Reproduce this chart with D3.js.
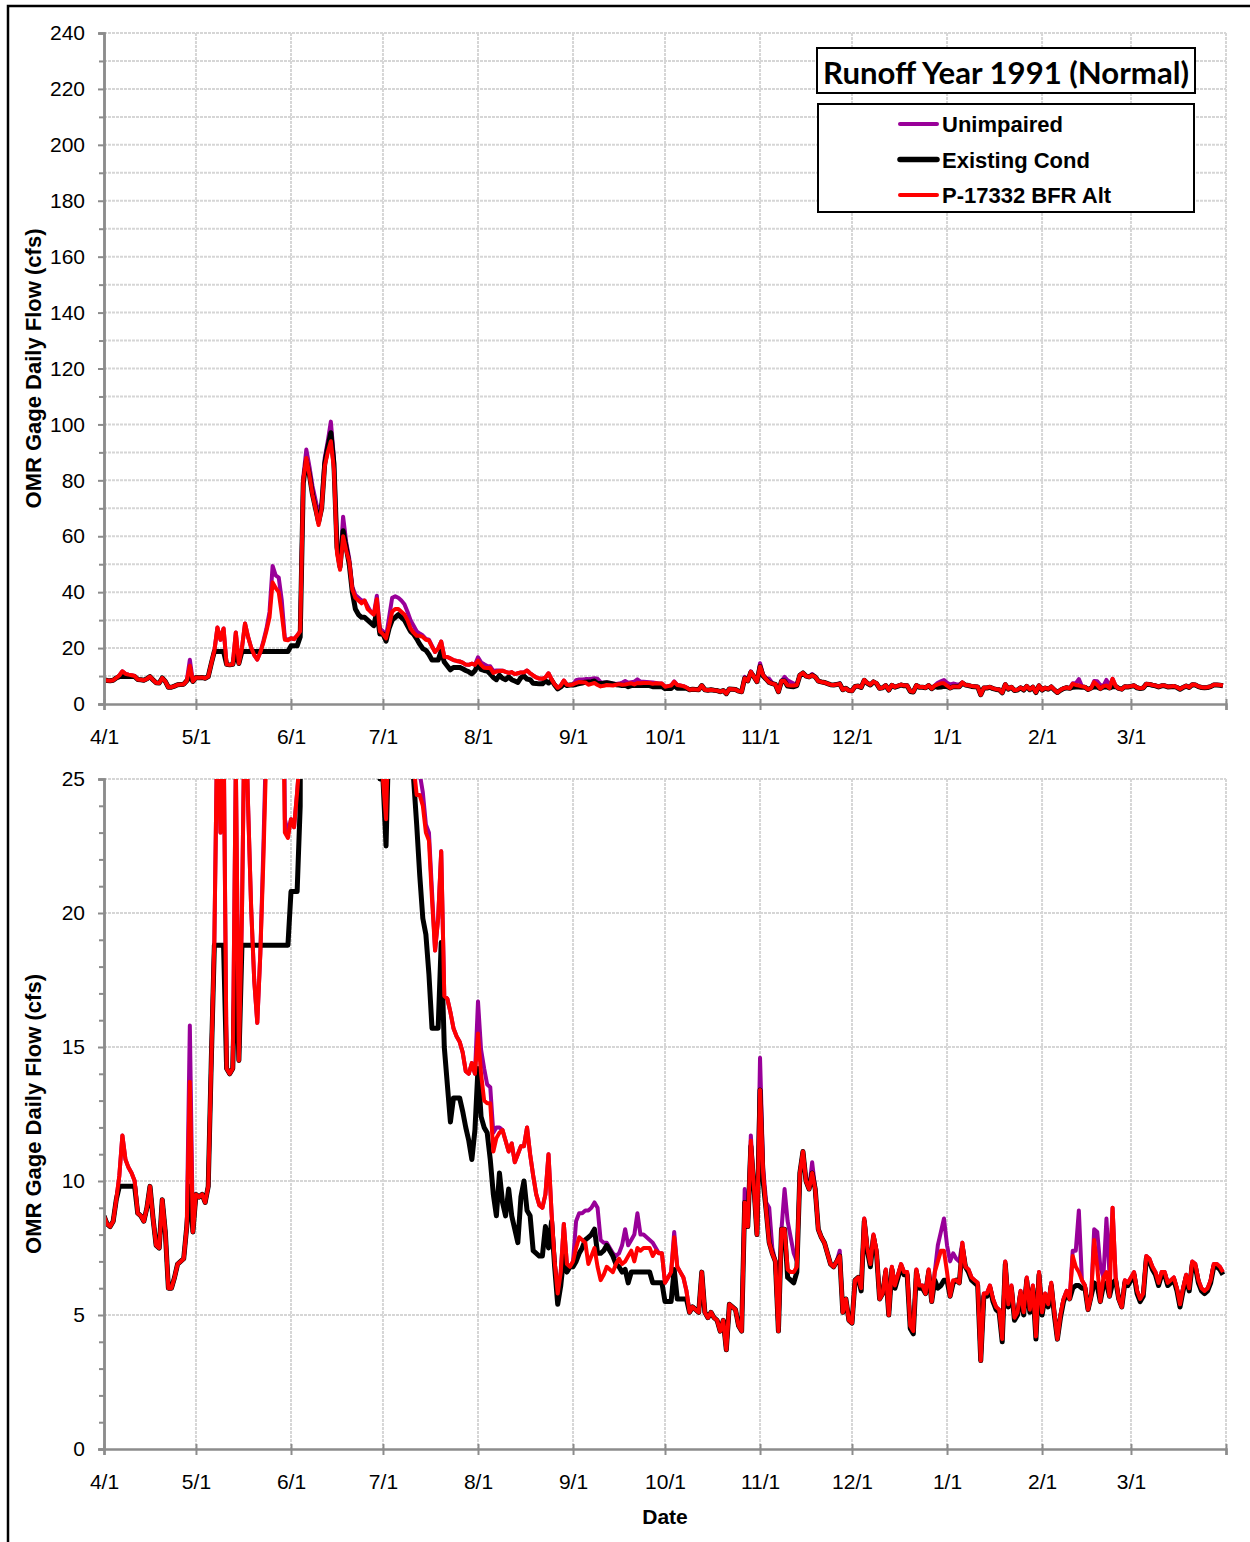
<!DOCTYPE html>
<html>
<head>
<meta charset="utf-8">
<script src="https://cdn.jsdelivr.net/npm/d3@7/dist/d3.min.js"></script>
<style>
  body { margin: 0; background: #fff; }
  svg { display: block; }
</style>
</head>
<body>
<div id="chart"></div>
<script>

// chart text
var chart_title = "Runoff Year 1991 (Normal)";
var y_title = "OMR Gage Daily Flow (cfs)";
var x_title = "Date";
var series_names = ["Unimpaired", "Existing Cond", "P-17332 BFR Alt"];
var series_colors = ["#990099", "#000000", "#ff0000"];

// axis ticks
var month_labels = ["4/1", "5/1", "6/1", "7/1", "8/1", "9/1", "10/1", "11/1", "12/1", "1/1", "2/1", "3/1", ""];
var top_major = [0, 20, 40, 60, 80, 100, 120, 140, 160, 180, 200, 220, 240];
var top_minor = [10, 30, 50, 70, 90, 110, 130, 150, 170, 190, 210, 230];
var low_major = [0, 5, 10, 15, 20, 25];
var low_minor = [1, 2, 3, 4, 6, 7, 8, 9, 11, 12, 13, 14, 16, 17, 18, 19, 21, 22, 23, 24];

// daily flow (cfs), 4/1/1991 - 3/31/1992
var unimpaired = [
  // apr
  8.7,8.4,8.3,8.5,9.3,10.2,11.7,10.8,10.5,10.3,10.0,8.8,8.7,8.5,9.0,9.8,8.6,7.6,7.5,9.3,8.1,6.0,6.0,6.4,6.9,7.0,7.1,8.3,15.8,8.1,
  // may
  9.5,9.4,9.5,9.2,9.8,14.5,19.0,27.4,23.0,27.0,14.2,14.0,14.2,25.6,14.5,20.0,28.8,24.0,20.2,17.5,15.9,18.5,22.5,27.0,33.0,49.4,46.0,45.2,37.0,23.5,23.0,
  // jun
  23.5,23.2,24.5,26,81,91,85,78,73,68,72,88,94,101,88,57,50,67,58,52,42,39,38,37,37,35,33,32,38.7,27,
  // jul
  26,24,31,38,38.5,38,37,35.7,33,30,28,26,25.2,24.5,23.3,23,20.8,18.6,19.8,22.3,16.9,16.8,16.3,15.7,15.4,15.2,14.8,14.1,14.0,14.4,14.0,
  // aug
  16.7,14.9,14.2,13.6,13.5,11.8,12.0,12.0,11.9,11.5,11.1,11.4,10.7,11.0,11.3,11.3,12.0,11.0,10.2,9.5,9.1,9.0,9.5,11.0,8.8,7.0,5.8,6.6,8.4,6.9,6.8,
  // sep
  7.0,8.5,8.8,8.8,8.9,8.9,9.0,9.2,9.0,7.8,7.7,7.7,7.5,7.3,7.2,7.3,7.6,8.2,7.6,7.8,8.0,8.8,8.0,8.0,7.9,7.8,7.7,7.5,7.3,7.3,
  // oct
  6.2,6.4,6.6,8.1,6.8,6.6,6.4,5.9,5.1,5.3,5.2,5.1,6.6,5.1,4.9,5.1,4.9,4.8,4.4,4.8,3.7,5.4,5.3,5.2,4.6,4.4,9.7,8.3,11.7,9.8,8.0,
  // nov
  14.6,10.5,9.2,9.0,7.5,7.0,4.4,8.2,9.7,8.5,7.9,7.3,7.0,10.3,11.1,10.0,9.7,10.7,9.7,8.2,7.9,7.7,7.3,6.9,6.8,7.0,7.4,5.1,5.6,4.8,
  // dec
  4.7,6.3,6.4,6.0,8.6,7.5,6.9,8.0,7.4,5.6,5.8,6.7,5.0,6.8,6.1,6.5,6.9,6.6,6.6,4.6,4.4,6.7,6.1,6.1,5.8,6.7,5.5,6.6,7.6,8.1,8.6,
  // jan
  7.6,7.0,7.3,7.1,7.0,7.7,6.8,6.7,6.4,6.3,6.2,3.3,5.8,5.8,6.1,5.6,5.3,5.2,4.1,7.0,5.4,6.1,4.9,5.1,5.9,5.1,6.4,5.2,6.1,4.2,6.6,
  // feb
  5.1,5.8,5.4,6.2,5.1,4.1,5.0,5.6,5.9,5.6,7.4,7.4,8.9,6.3,6.1,5.2,5.7,8.2,8.1,6.8,6.4,8.6,6.5,9.0,6.4,5.6,5.3,6.3,6.2,
  // mar
  6.4,6.6,5.9,5.6,5.8,7.2,7.1,6.8,6.6,6.2,6.6,6.6,6.2,6.3,6.4,6.0,5.4,6.0,6.5,6.0,7.0,6.9,6.3,6.0,5.9,6.0,6.3,6.9,6.9,6.8,6.6
];

var existing = [
  // apr
  8.7,8.4,8.3,8.5,9.3,9.8,9.8,9.8,9.8,9.8,9.8,8.8,8.7,8.5,9.0,9.8,8.6,7.6,7.5,9.3,8.1,6.0,6.0,6.4,6.9,7.0,7.1,8.3,9.8,8.1,
  // may
  9.5,9.4,9.5,9.2,9.8,14.5,18.8,18.8,18.8,18.8,14.2,14.0,14.2,18.8,14.5,18.8,18.8,18.8,18.8,18.8,18.8,18.8,18.8,18.8,18.8,18.8,18.8,18.8,18.8,18.8,18.8,
  // jun
  20.8,20.8,20.8,24,79,87,82,75,70,65,70,86,92,97,86,56,49,62,56,50,40,34,32,31,31,30,29,28,33,25,
  // jul
  25,22.5,27,30,31,32,31,30,28,26,25,23.3,21.4,19.8,19.2,17.7,15.7,15.7,15.7,18.9,15.0,13.6,12.2,13.1,13.1,13.1,12.6,12.0,11.5,10.8,11.9,
  // aug
  14.2,12.4,12.0,11.8,10.8,9.5,8.7,10.3,9.2,8.7,9.7,8.7,8.2,7.7,9.4,10.0,8.9,8.7,7.4,7.3,7.2,7.2,8.3,7.5,8.5,6.8,5.4,6.1,7.2,6.6,6.8,
  // sep
  6.8,7.0,7.3,7.5,7.8,7.9,8.0,8.2,7.3,7.3,7.4,7.6,7.4,7.2,6.9,6.8,6.6,6.7,6.2,6.6,6.6,6.6,6.6,6.6,6.6,6.6,6.2,6.2,6.2,6.2,
  // oct
  5.5,5.5,5.5,6.7,5.6,5.6,5.6,5.6,5.1,5.3,5.2,5.1,6.6,5.1,4.9,5.1,4.9,4.8,4.4,4.8,3.7,5.4,5.3,5.2,4.6,4.4,9.2,8.3,11.3,9.8,8.0,
  // nov
  13.4,10.0,8.9,7.7,7.3,7.0,4.4,8.2,8.2,6.4,6.3,6.2,6.6,10.3,11.1,10.0,9.7,10.3,9.7,8.2,7.9,7.7,7.3,6.9,6.8,7.0,7.2,5.1,5.6,4.8,
  // dec
  4.7,6.3,6.4,5.9,8.5,7.4,6.8,7.9,7.3,5.6,5.8,6.6,5.0,6.7,6.0,6.4,6.8,6.5,6.5,4.5,4.3,6.6,6.0,6.0,5.8,6.6,5.5,6.3,6.0,6.1,6.3,
  // jan
  6.3,5.7,6.2,6.3,6.2,7.5,6.8,6.6,6.3,6.2,6.1,3.3,5.7,5.7,6.0,5.5,5.2,5.1,4.0,6.9,5.3,6.0,4.8,5.0,5.8,5.0,6.3,5.1,6.0,4.1,6.5,
  // feb
  5.0,5.7,5.3,6.1,5.0,4.1,4.9,5.5,5.8,5.6,6.0,6.1,6.1,6.0,6.0,5.2,5.7,6.2,6.1,5.5,6.1,6.2,5.7,6.2,6.3,5.6,5.3,6.2,6.1,
  // mar
  6.3,6.5,5.8,5.5,5.7,7.1,7.0,6.7,6.5,6.1,6.5,6.5,6.1,6.2,6.3,5.9,5.3,5.9,6.4,5.9,6.9,6.8,6.2,5.9,5.8,5.9,6.2,6.8,6.8,6.7,6.5
];

var bfr_alt = [
  // apr
  8.7,8.4,8.3,8.5,9.3,10.2,11.7,10.8,10.5,10.3,10.0,8.8,8.7,8.5,9.0,9.8,8.6,7.6,7.5,9.3,8.1,6.0,6.0,6.4,6.9,7.0,7.1,8.3,13.7,8.1,
  // may
  9.5,9.4,9.5,9.2,9.8,14.5,19.0,27.4,23.0,27.0,14.2,14.0,14.2,25.6,14.5,20.0,28.8,24.0,20.2,17.5,15.9,18.5,22.0,26.2,31.0,43.5,41.5,40.0,32.0,23.0,22.8,
  // jun
  23.5,23.2,24.5,26,80,88,82,75,70,64,70,85,90,94,84,54,48,60,55,51,41,38,37,36,37,34,33,32,37.5,26,
  // jul
  25,23.5,28,33,34,34,33,32,30,27,25.5,24.4,24.4,24,23,22.7,20.5,18.6,19.8,22.3,16.9,16.8,16.3,15.7,15.4,15.2,14.8,14.1,14.0,14.4,14.0,
  // aug
  15.5,14.0,13.0,12.9,12.9,11.1,11.6,11.8,11.9,11.5,11.1,11.4,10.7,11.0,11.3,11.3,12.0,11.0,10.2,9.5,9.1,9.0,9.5,11.0,8.8,7.0,5.8,6.6,8.4,6.9,6.8,
  // sep
  7.0,7.5,7.9,7.8,7.7,6.9,7.2,7.5,6.8,6.3,6.5,6.8,6.7,6.6,6.9,7.1,6.9,7.0,7.2,7.4,7.0,7.5,7.4,7.5,7.5,7.5,7.2,7.4,7.3,7.3,
  // oct
  6.2,6.4,6.6,7.9,6.8,6.6,6.4,5.9,5.1,5.3,5.2,5.1,6.6,5.1,4.9,5.1,4.9,4.8,4.4,4.8,3.7,5.4,5.3,5.2,4.6,4.4,9.2,8.3,11.5,9.8,8.0,
  // nov
  13.4,10.3,8.9,7.7,7.3,7.0,4.4,8.2,8.2,6.7,6.6,6.6,6.8,10.3,11.1,10.0,9.7,10.3,9.7,8.2,7.9,7.7,7.3,6.9,6.8,7.0,7.2,5.1,5.6,4.8,
  // dec
  4.7,6.3,6.4,6.0,8.6,7.5,6.9,8.0,7.4,5.6,5.8,6.7,5.0,6.8,6.1,6.5,6.9,6.6,6.6,4.6,4.4,6.7,6.1,6.1,5.8,6.7,5.5,6.6,7.0,7.4,7.4,
  // jan
  6.6,5.7,6.3,6.3,6.2,7.7,6.8,6.7,6.4,6.3,6.2,3.3,5.8,5.8,6.1,5.6,5.3,5.2,4.1,7.0,5.4,6.1,4.9,5.1,5.9,5.1,6.4,5.2,6.1,4.2,6.6,
  // feb
  5.1,5.8,5.4,6.2,5.1,4.1,5.0,5.6,5.9,5.6,7.2,6.8,6.6,6.3,6.1,5.2,5.7,7.8,6.8,5.5,6.4,6.6,5.7,9.0,6.4,5.6,5.3,6.3,6.2,
  // mar
  6.4,6.6,5.9,5.6,5.8,7.2,7.1,6.8,6.6,6.2,6.6,6.6,6.2,6.3,6.4,6.0,5.4,6.0,6.5,6.0,7.0,6.9,6.3,6.0,5.9,6.0,6.3,6.9,6.9,6.8,6.6
];

var start_date = new Date(1991, 3, 1),
    end_date = new Date(1992, 3, 1);

var width = 1250,
    height = 1542;

var plot = {left: 104, right: 1226};

// one entry per panel, same data on both
var panels = [
  {id: "upper", top: 33, bottom: 704, max: 240, major: top_major, minor: top_minor, grid: top_major.concat(top_minor)},
  {id: "lower", top: 779, bottom: 1449, max: 25, major: low_major, minor: low_minor, grid: low_major}
];

var all_series = [unimpaired, existing, bfr_alt].map(function(values, i) {
  return {
    name: series_names[i],
    color: series_colors[i],
    width: [4, 5, 4][i],
    values: values.map(function(v, d) {
      return {date: d3.timeDay.offset(start_date, d), value: v};
    })
  };
});

var x = d3.scaleTime()
    .domain([start_date, end_date])
    .range([plot.left, plot.right]);

var month_ticks = d3.timeMonth.range(start_date, d3.timeDay.offset(end_date, 1));

var svg = d3.select("#chart")
  .append("svg")
  .attr("width", width)
  .attr("height", height)
  .style("font-family", "'Liberation Sans', Arial, sans-serif");

// outer frame (only left and top show in the picture)
svg.append("rect")
  .attr("x", 8).attr("y", 6)
  .attr("width", width + 20).attr("height", height + 20)
  .attr("fill", "none")
  .attr("stroke", "#000")
  .attr("stroke-width", 2.5);

panels.forEach(function(p) {
  draw_panel(p);
});

/////////////////////////////
// draws one panel: grid, axes, clipped lines
/////////////////////////////
function draw_panel(p) {

  var y = d3.scaleLinear()
      .domain([0, p.max])
      .range([p.bottom, p.top]);

  var g = svg.append("g").attr("class", p.id);

  // horizontal grid
  g.selectAll(".hgrid")
    .data(p.grid.filter(function(d) { return d > 0; }))
    .enter().append("line")
    .attr("x1", plot.left).attr("x2", plot.right)
    .attr("y1", function(d) { return y(d); })
    .attr("y2", function(d) { return y(d); })
    .attr("stroke", "#d6d6d6")
    .attr("stroke-width", 2)
    .attr("stroke-dasharray", "3,1");

  // vertical grid at each month
  g.selectAll(".vgrid")
    .data(month_ticks.slice(1))
    .enter().append("line")
    .attr("x1", function(d) { return x(d); })
    .attr("x2", function(d) { return x(d); })
    .attr("y1", p.top).attr("y2", p.bottom)
    .attr("stroke", "#d6d6d6")
    .attr("stroke-width", 2)
    .attr("stroke-dasharray", "3,1");

  // lines, clipped to the plot area
  var clip_id = "clip-" + p.id;
  svg.append("clipPath")
    .attr("id", clip_id)
    .append("rect")
    .attr("x", plot.left).attr("y", p.top)
    .attr("width", plot.right - plot.left)
    .attr("height", p.bottom - p.top);

  var line = d3.line()
    .x(function(d) { return x(d.date); })
    .y(function(d) { return y(d.value); });

  g.append("g")
    .attr("clip-path", "url(#" + clip_id + ")")
    .selectAll("path")
    .data(all_series)
    .enter().append("path")
    .attr("d", function(s) { return line(s.values); })
    .attr("fill", "none")
    .attr("stroke", function(s) { return s.color; })
    .attr("stroke-width", function(s) { return s.width; })
    .attr("stroke-linejoin", "round");

  // y axis, minor ticks first
  g.append("g")
    .attr("transform", "translate(" + plot.left + ",0)")
    .call(d3.axisLeft(y).tickValues(p.minor).tickSize(5).tickFormat(""))
    .call(style_axis);

  g.append("g")
    .attr("transform", "translate(" + plot.left + ",0)")
    .call(d3.axisLeft(y).tickValues(p.major).tickSize(6).tickPadding(13))
    .call(style_axis)
    .selectAll("text")
    .style("font-size", "21px")
    .attr("fill", "#000");

  // x axis
  var xa = g.append("g")
    .attr("transform", "translate(0," + p.bottom + ")")
    .call(d3.axisBottom(x)
      .tickValues(month_ticks)
      .tickSize(6)
      .tickPadding(19)
      .tickFormat(function(d, i) { return month_labels[i]; }))
    .call(style_axis);

  xa.selectAll(".tick line").attr("y1", -5);
  xa.selectAll("text")
    .style("font-size", "21px")
    .attr("fill", "#000");

  // axis title
  svg.append("text")
    .attr("transform", "translate(41," + ((p.top + p.bottom) / 2) + ") rotate(-90)")
    .attr("text-anchor", "middle")
    .style("font-size", "22px")
    .style("font-weight", "bold")
    .text(y_title);
}

function style_axis(sel) {
  sel.select(".domain").attr("stroke", "#8c8c8c").attr("stroke-width", 2.5);
  sel.selectAll(".tick line").attr("stroke", "#8c8c8c").attr("stroke-width", 2);
}

// x title under the lower panel
svg.append("text")
  .attr("x", 665).attr("y", 1524)
  .attr("text-anchor", "middle")
  .style("font-size", "21px")
  .style("font-weight", "bold")
  .text(x_title);

// title box
svg.append("rect")
  .attr("x", 817).attr("y", 48)
  .attr("width", 378).attr("height", 45)
  .attr("fill", "#fff")
  .attr("stroke", "#000")
  .attr("stroke-width", 2);

svg.append("text")
  .attr("x", 1006).attr("y", 84)
  .attr("text-anchor", "middle")
  .attr("textLength", 366)
  .attr("lengthAdjust", "spacingAndGlyphs")
  .style("font-family", "Lato, 'Open Sans', sans-serif")
  .style("font-size", "31px")
  .style("font-weight", "bold")
  .text(chart_title);

// legend box
var legend = svg.append("g").attr("class", "legend");

legend.append("rect")
  .attr("x", 818).attr("y", 104)
  .attr("width", 376).attr("height", 108)
  .attr("fill", "#fff")
  .attr("stroke", "#000")
  .attr("stroke-width", 2);

var rows = legend.selectAll(".row")
  .data(all_series)
  .enter().append("g")
  .attr("transform", function(d, i) { return "translate(0," + (124 + i * 35.5) + ")"; });

rows.append("line")
  .attr("x1", 900).attr("x2", 937)
  .attr("stroke", function(d) { return d.color; })
  .attr("stroke-width", function(d, i) { return i == 1 ? 5.5 : 4; })
  .attr("stroke-linecap", "round");

rows.append("text")
  .attr("x", 942).attr("y", 8)
  .style("font-size", "22px")
  .style("font-weight", "bold")
  .text(function(d) { return d.name; });

</script>
</body>
</html>
